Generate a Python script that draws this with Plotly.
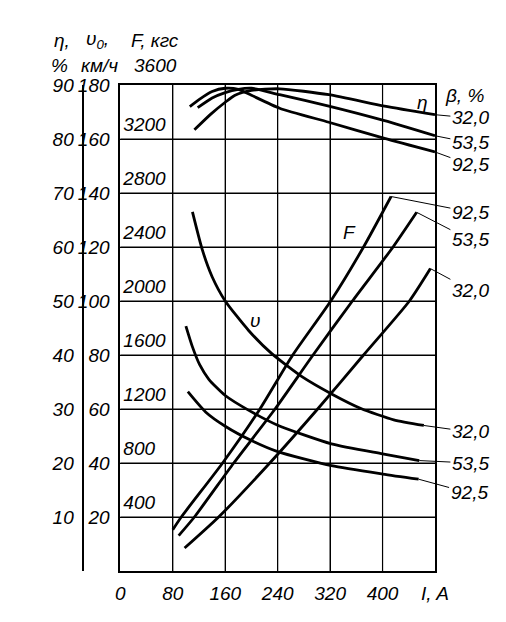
import plotly.graph_objects as go

# ---------------- data ----------------
# efficiency eta, %  (against current I, A)
eta_I_320 = [113, 138, 161, 175, 200, 243, 318, 403, 480]
eta_320 = [81.7, 84.6, 86.9, 88.1, 89.0, 89.3, 88.2, 86.1, 84.5]
eta_I_535 = [118, 140, 160, 180, 200, 243, 318, 403, 480]
eta_535 = [85.8, 87.6, 88.6, 89.2, 89.4, 88.2, 86.1, 83.4, 80.6]
eta_I_925 = [106, 120, 140, 160, 180, 200, 243, 318, 403, 480]
eta_925 = [86.0, 87.3, 88.8, 89.4, 89.2, 88.1, 85.7, 83.1, 80.1, 77.6]

# speed v0, km/h
v_I_320 = [110, 125, 140, 160, 196, 231, 277, 323, 367, 417, 463]
v_320 = [133, 119, 109, 100, 89, 80.5, 72, 65.5, 60.2, 56, 53.9]
v_I_535 = [100, 110, 121, 135, 160, 196, 240, 322, 400, 456]
v_535 = [90.7, 83, 76.4, 71, 65, 59.5, 54, 47.1, 43.4, 40.9]
v_I_925 = [103, 130, 160, 200, 240, 322, 400, 455]
v_925 = [66.4, 58.9, 53.6, 48.3, 44.2, 39, 35.9, 34]

# tractive force F, kgf
F_I_925 = [80, 93, 156, 213, 263, 321, 371, 413]
F_925 = [306, 400, 800, 1200, 1600, 2000, 2400, 2774]
F_I_535 = [89, 113, 173, 236, 294, 354, 416, 452]
F_535 = [262, 400, 800, 1200, 1600, 2000, 2400, 2657]
F_I_320 = [98, 150, 228, 301, 371, 441, 473]
F_320 = [170, 400, 800, 1200, 1600, 2000, 2240]

beta_labels = ["32,0", "53,5", "92,5"]

x_ticks = [0, 80, 160, 240, 320, 400, 480]
x_ticktext = ["0", "80", "160", "240", "320", "400", "I, A"]
v_ticks = [20, 40, 60, 80, 100, 120, 140, 160, 180]
eta_ticks = [10, 20, 30, 40, 50, 60, 70, 80, 90]
F_ticks = [400, 800, 1200, 1600, 2000, 2400, 2800, 3200]

# ---------------- figure ----------------
FONT = dict(family="Liberation Sans Narrow, Liberation Sans, Arial, sans-serif",
            size=19, color="black", style="italic")
LINE = dict(color="black", width=2.8, shape="spline", smoothing=0.6)

fig = go.Figure()

for I, e in [(eta_I_320, eta_320), (eta_I_535, eta_535), (eta_I_925, eta_925)]:
    fig.add_trace(go.Scatter(x=I, y=e, mode="lines", line=LINE, yaxis="y2",
                             showlegend=False, hoverinfo="skip"))
for I, v in [(v_I_320, v_320), (v_I_535, v_535), (v_I_925, v_925)]:
    fig.add_trace(go.Scatter(x=I, y=v, mode="lines", line=LINE, yaxis="y",
                             showlegend=False, hoverinfo="skip"))
for I, f in [(F_I_925, F_925), (F_I_535, F_535), (F_I_320, F_320)]:
    fig.add_trace(go.Scatter(x=I, y=f, mode="lines", line=LINE, yaxis="y3",
                             showlegend=False, hoverinfo="skip"))

# geometry helpers (page pixel -> paper coordinates; page has 8px body margin)
W, H = 506, 622
OFF = 8
ML, MR, MT, MB = 12, 79, 77, 59
PW, PH = W - ML - MR, H - MT - MB


def px(xp):
    return (xp - OFF - ML) / PW


def py(yp):
    return (H - MB - (yp - OFF)) / PH


ann = []


def leader(xh, yh, xt, yt, yref, text):
    ann.append(dict(x=xh, y=yh, xref="x", yref=yref, ax=xt, ay=yt, axref="x",
                    ayref=yref, text=text, showarrow=True, arrowhead=0,
                    arrowwidth=1, arrowcolor="black", standoff=0,
                    startstandoff=0, font=FONT))


# eta labels
leader(eta_I_320[-1], eta_320[-1], 534, 83.9, "y2", beta_labels[0])
leader(eta_I_535[-1], eta_535[-1], 534, 79.3, "y2", beta_labels[1])
leader(eta_I_925[-1], eta_925[-1], 534, 75.2, "y2", beta_labels[2])
# F labels
leader(F_I_925[-1], F_925[-1], 534, 2659, "y3", beta_labels[2])
leader(F_I_535[-1], F_535[-1], 534, 2452, "y3", beta_labels[1])
leader(F_I_320[-1], F_320[-1], 534, 2081, "y3", beta_labels[0])
# v labels
leader(v_I_320[-1], v_320[-1], 534, 51.5, "y", beta_labels[0])
leader(v_I_535[-1], v_535[-1], 534, 40.0, "y", beta_labels[1])
leader(v_I_925[-1], v_925[-1], 532, 28.9, "y", beta_labels[2])


def text(xp, yp, t):
    ann.append(dict(x=px(xp), y=py(yp), xref="paper", yref="paper", text=t,
                    showarrow=False, font=FONT, xanchor="center", yanchor="middle"))


text(57, 40, "η,")
text(93, 40, "υ<sub>0</sub>,")
text(152, 40, "F, кгс")
text(55, 66, "%")
text(95, 66, "км/ч")
text(152, 66, "3600")
text(465, 95, "β, %")
text(422, 102, "η")
text(348, 233, "F")
text(253, 320, "υ")

# grid lines, placed at the axis tick values
GRID = dict(color="black", width=1.2)
shapes = []
for t in x_ticks[1:-1]:
    shapes.append(dict(type="line", xref="x", yref="paper", x0=t, x1=t,
                       y0=0, y1=1, line=GRID, layer="above"))
for t in v_ticks[:-1]:
    shapes.append(dict(type="line", xref="paper", yref="y", x0=px(116.5), x1=1,
                       y0=t, y1=t, line=GRID, layer="above"))

AX = dict(showline=True, linecolor="black", linewidth=2, mirror=True,
          showgrid=True, gridcolor="black", gridwidth=1.2, zeroline=False,
          ticks="", tickfont=FONT)

fig.update_layout(
    width=W, height=H,
    margin=dict(l=ML, r=MR, t=MT, b=MB, pad=0),
    paper_bgcolor="white", plot_bgcolor="white",
    showlegend=False,
    xaxis=dict(AX, domain=[px(116.5), 1], range=[0, 480], tickvals=x_ticks,
               ticktext=x_ticktext, ticklabelstandoff=4),
    yaxis=dict(AX, range=[0, 180], tickvals=v_ticks, ticklabelstandoff=5),
    yaxis2=dict(range=[0, 90], tickvals=eta_ticks, overlaying="y",
                anchor="free", position=px(79), side="left", showgrid=False,
                showline=True, linecolor="black", linewidth=1.5, ticks="",
                zeroline=False, tickfont=FONT, ticklabelstandoff=5),
    yaxis3=dict(range=[0, 3600], tickvals=F_ticks, overlaying="y",
                anchor="free", position=px(116.5), side="right",
                showgrid=False, showline=False, ticks="", zeroline=False,
                tickfont=FONT, ticklabelshift=-15, ticklabelstandoff=2),
    annotations=ann,
    shapes=shapes,
)

fig.write_html("out.html")
